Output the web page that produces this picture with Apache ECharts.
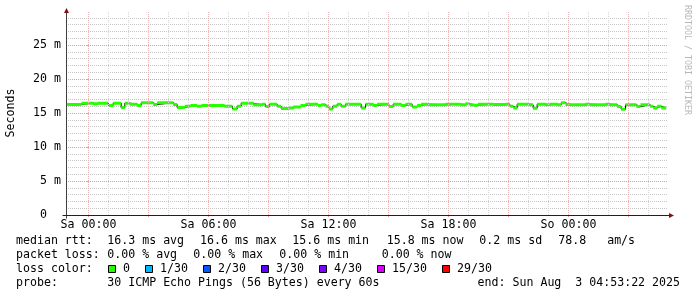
<!DOCTYPE html>
<html><head><meta charset="utf-8">
<script src="https://cdn.jsdelivr.net/npm/echarts@6/dist/echarts.min.js"></script>
<style>html,body{margin:0;padding:0;background:#fff}#c{width:697px;height:297px}</style>
</head><body><div id="c"></div>
<script>
// Median RTT (ms), segments: start minute relative to Sa 00:00, value in ms
const segStart = [-66,-21,14,28,60,74,98,109,124,146,158,194,206,254,266,289,306,326,339,408,432,446,458,494,521,531,543,566,578,601,614,636,651,688,698,711,721,733,746,758,771,818,831,854,866,901,914,938,951,971,986,998,1016,1071,1116,1131,1144,1156,1168,1214,1251,1264,1274,1286,1321,1334,1346,1371,1384,1406,1418,1431,1446,1491,1504,1551,1564,1586,1598,1611,1644,1656,1684,1694,1706,1718];
const segValue = [16.25,16.45,16.35,16.45,16.1,16.45,15.8,16.45,16.3,16.1,16.5,16.25,16.5,16.25,15.8,16.0,16.1,16.0,16.1,16.0,15.6,16.0,16.45,16.2,16.3,15.95,16.3,16.0,15.65,15.75,15.9,16.1,16.3,16.1,16.2,16.0,15.6,16.0,16.3,16.0,16.3,15.75,16.3,16.1,16.3,15.95,16.3,16.1,16.3,15.9,16.1,16.3,16.2,16.3,16.2,16.35,16.2,16.15,16.3,16.25,16.3,16.0,15.75,16.3,16.2,15.7,16.3,16.2,16.3,16.2,16.5,16.25,16.2,16.3,16.2,16.3,16.2,15.95,15.55,16.2,15.95,16.2,16.0,15.75,16.0,15.75];
const endMinute = 1733;
const xMin = -67.5, xMax = 1738.5;
const timeTickValues = [0, 360, 720, 1080, 1440];
const timeTickLabels = ['Sa 00:00', 'Sa 06:00', 'Sa 12:00', 'Sa 18:00', 'So 00:00'];
const majorTimeLines = [0,180,360,540,720,900,1080,1260,1440,1620];
const minorTimeLines = [60,120,240,300,420,480,600,660,780,840,960,1020,1140,1200,1320,1380,1500,1560,1680];
const yTickValues = [0, 5, 10, 15, 20, 25];
const yTickLabels = ['0  ', '5 m', '10 m', '15 m', '20 m', '25 m'];
const lossLabels = ['0', '1/30', '2/30', '3/30', '4/30', '15/30', '29/30'];
const lossColors = ['#26ff00', '#00b8ff', '#0059ff', '#5e00ff', '#7e00ff', '#dd00ff', '#ff0000'];
const statsLine1 = [['median rtt:',16],['16.3 ms avg',107.3],['16.6 ms max',200],['15.6 ms min',292.3],['15.8 ms now',386.7],['0.2 ms sd',479.3],['78.8   am/s',558.3]];
const statsLine2 = [['packet loss:',16],['0.00 % avg',107.3],['0.00 % max',193.3],['0.00 % min',279.3],['0.00 % now',381.7]];
const probeText = '30 ICMP Echo Pings (56 Bytes) every 60s';
const endText = 'end: Sun Aug  3 04:53:22 2025';

const FONT = 'DejaVu Sans Mono';
const FS = 11.6;
const CW = 7.0;
const MAJOR = '#e39b9b', MAJOR_V = '#eab6b6', MINOR = '#c6c6c6', MINOR_V = '#d6d6d6';

const darkData = segStart.map((s, i) => [s, segValue[i]]);
darkData.push([endMinute, segValue[segValue.length - 1]]);
const greenData = [];
segStart.forEach((s, i) => {
  const e = i + 1 < segStart.length ? segStart[i + 1] : endMinute;
  greenData.push([s, segValue[i]], [e, segValue[i]], [e, '-']);
});
const vLines = minorTimeLines.map(m => ({xAxis: m, lineStyle: {color: MINOR_V, type: [1, 1], width: 1}}))
  .concat(majorTimeLines.map(m => ({xAxis: m, lineStyle: {color: MAJOR_V, type: [1, 1], width: 1}})));

const chart = echarts.init(document.getElementById('c'), null, {renderer: 'canvas'});
const txt = {fontFamily: FONT, fontSize: FS, color: '#000'};
chart.setOption({
  animation: false,
  backgroundColor: '#fff',
  grid: {left: 66, top: 11, width: 602, height: 204, containLabel: false, outerBoundsMode: 'none'},
  xAxis: {
    type: 'value', min: xMin, max: xMax,
    axisLine: {show: false},
    axisTick: {show: true, customValues: majorTimeLines, length: 2, lineStyle: {color: MAJOR}},
    axisLabel: {customValues: timeTickValues, margin: 4, ...txt,
      formatter: v => timeTickLabels[timeTickValues.indexOf(v)] || ''},
    splitLine: {show: false}
  },
  yAxis: [{
    type: 'value', min: 0, max: 30, interval: 5, z: 2,
    axisLine: {show: false},
    axisTick: {show: true, length: 2, lineStyle: {color: MAJOR}},
    axisLabel: {margin: 5, ...txt, showMaxLabel: false,
      formatter: v => { const k = yTickValues.indexOf(v); return k >= 0 ? yTickLabels[k] : ''; }},
    name: 'Seconds', nameLocation: 'middle', nameRotate: 90, nameGap: 49,
    nameTextStyle: {...txt},
    splitLine: {show: true, showMinLine: false, showMaxLine: false, lineStyle: {color: MAJOR, type: [1, 1], width: 1}}
  }, {
    type: 'value', min: 0, max: 30, interval: 1, position: 'right', z: 1,
    axisLine: {show: false}, axisLabel: {show: false}, axisTick: {show: false},
    splitLine: {show: true, showMinLine: false, showMaxLine: false, lineStyle: {color: MINOR, type: [1, 1], width: 1}}
  }],
  series: [{
    type: 'line', data: [], symbol: 'none', z: 1, silent: true,
    markLine: {silent: true, symbol: ['none', 'none'], label: {show: false}, animation: false, data: vLines}
  }, {
    type: 'line', step: 'end', data: darkData, symbol: 'none', z: 3,
    lineStyle: {color: '#000', width: 1}, silent: true
  }, {
    type: 'line', data: greenData, symbol: 'none', z: 4, connectNulls: false,
    lineStyle: {color: '#26ff00', width: 3, cap: 'butt'}, silent: true
  }]
});

// decorations: axis lines, arrows, legend texts
const p0 = chart.convertToPixel({gridIndex: 0}, [xMin, 0]);
const pT = chart.convertToPixel({gridIndex: 0}, [xMin, 30]);
const pR = chart.convertToPixel({gridIndex: 0}, [xMax, 0]);
const ax = Math.round(p0[0]) + 0.5, ay = Math.round(p0[1]) + 0.5;
const g = [];
g.push({type: 'line', shape: {x1: ax, y1: ay + 3, x2: ax, y2: pT[1] - 1}, style: {stroke: '#404040', lineWidth: 1}, z: 10});
g.push({type: 'line', shape: {x1: ax - 4, y1: ay, x2: pR[0] + 2, y2: ay}, style: {stroke: '#202020', lineWidth: 1}, z: 10});
g.push({type: 'polygon', shape: {points: [[ax - 2.5, pT[1] + 2], [ax + 2.5, pT[1] + 2], [ax, pT[1] - 3]]}, style: {fill: '#7f1010'}, z: 11});
g.push({type: 'polygon', shape: {points: [[pR[0] + 1, ay - 2.5], [pR[0] + 1, ay + 2.5], [pR[0] + 6, ay]]}, style: {fill: '#7f1010'}, z: 11});

function T(text, x, y, extra) {
  g.push({type: 'text', x: x, y: y, z: 12, style: Object.assign({text: text, font: FS + 'px "' + FONT + '"', fill: '#000', textAlign: 'left', textVerticalAlign: 'middle'}, extra || {})});
}
statsLine1.forEach(([t, x]) => T(t, x, 241));
statsLine2.forEach(([t, x]) => T(t, x, 255));
T('loss color:', 16, 269);
let lx = 108;
lossLabels.forEach((lab, i) => {
  g.push({type: 'rect', z: 12, shape: {x: lx + 0.5, y: 265.5, width: 7, height: 7}, style: {fill: lossColors[i], stroke: '#000', lineWidth: 1}});
  T(lab, lx + 15, 269);
  lx = lx + 15 + lab.length * CW + 15;
});
T('probe:', 16, 283);
T(probeText, 107.3, 283);
T(endText, 680, 283, {textAlign: 'right'});
g.push({type: 'text', x: 687, y: 60, rotation: -Math.PI / 2, z: 12,
  style: {text: 'RRDTOOL / TOBI OETIKER', font: '8.3px "' + FONT + '"', fill: '#b8b8b8', textAlign: 'center', textVerticalAlign: 'middle'}});
chart.setOption({graphic: g});
</script></body></html>
